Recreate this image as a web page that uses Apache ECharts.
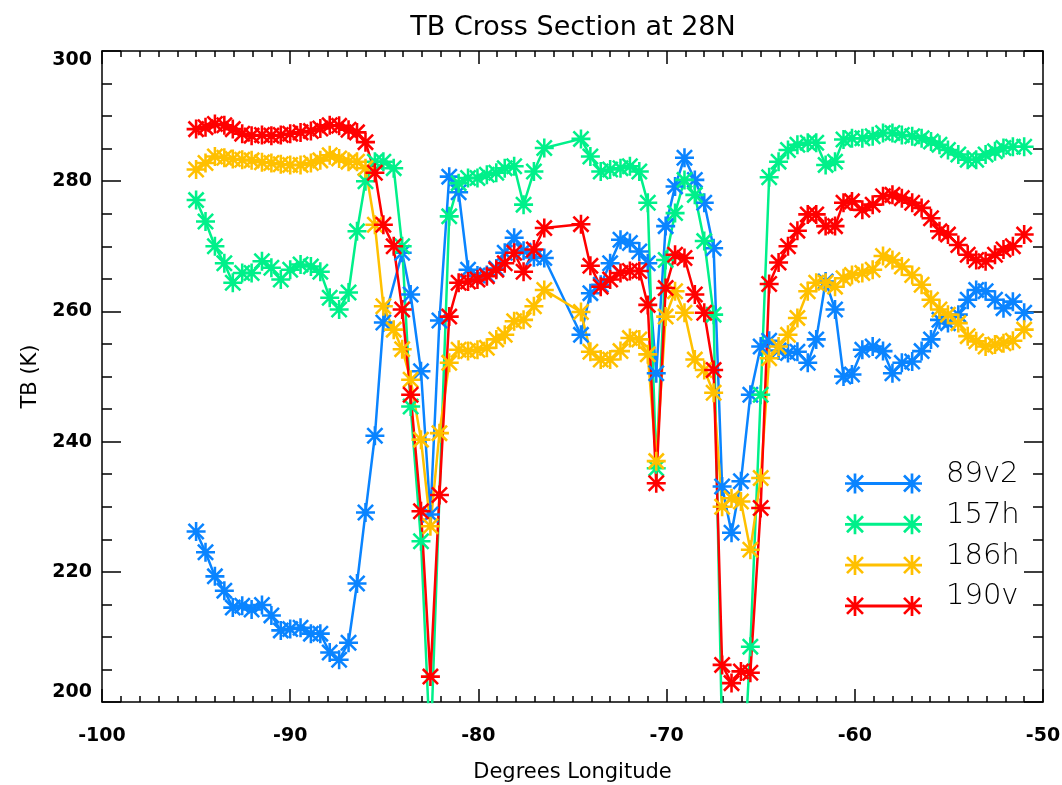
<!DOCTYPE html>
<html>
<head>
<meta charset="utf-8">
<script src="https://cdn.jsdelivr.net/npm/echarts@6/dist/echarts.min.js"></script>
<style>html,body{margin:0;padding:0;background:#fff}#chart{width:1062px;height:785px}</style>
</head>
<body>
<div id="chart"></div>
<script>
// ---- data ----
const xTicks = [-100, -90, -80, -70, -60, -50];
const yTicks = [200, 220, 240, 260, 280, 300];
const seriesNames = ['89v2', '157h', '186h', '190v'];

const lon = [
  -95.0, -94.5, -94.0, -93.5, -93.05, -92.55, -92.05, -91.5, -91.0, -90.5,
  -90.0, -89.45, -88.9, -88.4, -87.9, -87.4, -86.9, -86.45, -86.0, -85.5,
  -85.05, -84.5, -84.05, -83.6, -83.05, -82.55, -82.07, -81.55, -81.05, -80.55,
  -80.05, -79.55, -79.05, -78.6, -78.1, -77.6, -77.05, -76.5, -74.55, -74.05,
  -73.5, -73.0, -72.45, -71.95, -71.45, -71.0, -70.55, -70.05, -69.55, -69.05,
  -68.5, -68.0, -67.5, -67.05, -66.55, -66.05, -65.55, -65.0, -64.55, -64.05,
  -63.55, -63.05, -62.5, -62.05, -61.55, -61.05, -60.6, -60.15, -59.6, -59.05,
  -58.5, -58.0, -57.5, -56.95, -56.45, -55.95, -55.5, -55.05, -54.5, -54.0,
  -53.55, -53.05, -52.55, -52.1, -51.6, -51.0
];

const tb89v2 = [
  226.2, 223.0, 219.3, 217.1, 214.5, 214.8, 214.2, 214.9, 213.3, 211.0,
  211.2, 211.4, 210.5, 210.5, 207.6, 206.5, 209.1, 218.2, 229.1, 240.9,
  258.3, null, 269.0, 262.6, 250.8, 228.8, 258.6, 280.7, 278.3, 266.4,
  265.5, 265.6, 266.6, 269.0, 271.3, 269.3, 268.3, 268.2, 256.4, 262.8,
  264.1, 267.4, 271.0, 270.5, 269.2, 267.4, 250.5, 273.1, 279.2, 283.6,
  280.2, 276.7, 269.7, 233.1, 226.0, 233.9, 247.2, 254.6, 255.5, 254.0,
  253.6, 253.8, 252.1, 255.7, 264.6, 260.3, 250.0, 250.3, 254.1, 254.6,
  253.9, 250.5, 252.1, 252.3, 253.9, 255.7, 258.7, 258.2, 259.5, 261.8,
  263.3, 263.1, 261.8, 260.5, 261.5, 259.8
];

const tb157h = [
  277.1, 273.8, 270.0, 267.4, 264.4, 265.9, 265.9, 267.7, 266.7, 264.9,
  266.4, 267.2, 266.9, 266.1, 262.1, 260.3, 262.9, 272.3, 280.0, 283.0,
  283.0, 282.0, 270.0, 245.4, 224.7, 192.0, null, 274.6, 279.7, 280.5,
  280.5, 281.0, 281.3, 282.0, 282.3, 276.4, 281.5, 285.1, 286.5, 283.8,
  281.5, 281.8, 282.0, 282.3, 281.5, 276.7, 235.9, 267.9, 275.1, 280.2,
  277.9, 270.8, 259.5, 194.0, 188.0, 182.0, 208.5, 247.2, 280.6, 283.0,
  284.8, 285.6, 285.9, 285.9, 282.5, 283.0, 286.4, 286.6, 286.6, 286.9,
  287.4, 287.4, 287.1, 286.9, 286.6, 286.1, 285.6, 284.8, 284.1, 283.3,
  283.3, 284.1, 284.6, 285.1, 285.3, 285.3
];

const tb186h = [
  281.8, 282.8, 283.8, 283.6, 283.4, 283.3, 283.2, 282.9, 282.8, 282.6,
  282.5, 282.5, 282.8, 283.2, 284.0, 283.5, 283.0, 283.0, 282.0, 273.3,
  260.8, 257.2, 254.2, 249.5, 240.3, 227.0, 241.3, 252.1, 254.1, 253.9,
  254.1, 254.4, 255.7, 256.4, 258.5, 258.7, 260.8, 263.3, 259.9, 253.8,
  252.6, 252.6, 253.9, 255.9, 255.7, 253.4, 237.0, 259.2, 263.1, 259.8,
  252.6, 251.0, 247.5, 230.0, 231.3, 230.8, 223.4, 234.4, 252.8, 254.6,
  256.4, 259.0, 263.1, 264.4, 264.4, 263.8, 265.1, 265.6, 265.9, 266.4,
  268.5, 267.9, 266.9, 265.6, 264.1, 261.8, 260.3, 259.5, 258.2, 256.2,
  255.4, 254.6, 254.9, 255.1, 255.5, 257.2
];

const tb190v = [
  288.0, 288.3, 288.8, 288.6, 288.0, 287.3, 287.0, 287.1, 287.0, 287.1,
  287.3, 287.5, 287.7, 288.1, 288.6, 288.5, 287.9, 287.5, 286.0, 281.3,
  273.3, 270.0, 260.3, 247.2, 229.3, 203.9, 231.8, 259.2, 264.4, 264.6,
  264.9, 265.4, 266.4, 267.4, 269.0, 266.1, 269.5, 272.8, 273.4, 267.0,
  263.8, 264.9, 265.9, 266.2, 266.2, 261.0, 233.6, 263.6, 268.7, 268.2,
  262.6, 259.8, 251.0, 205.7, 202.9, 204.7, 204.5, 229.8, 264.2, 267.5,
  270.0, 272.4, 274.9, 274.9, 273.1, 273.1, 276.7, 276.9, 275.6, 276.4,
  277.7, 277.9, 277.4, 276.7, 275.9, 274.3, 272.3, 271.8, 270.2, 268.7,
  267.9, 267.7, 268.7, 269.5, 270.0, 271.8
];

// ---- styling ----
const colors = ['#0a84ff', '#00f08a', '#ffc000', '#ff0000'];
const FONT = 'DejaVu Sans';

function bar(x1, y1, x2, y2, w) {
  const dx = x2 - x1, dy = y2 - y1, L = Math.hypot(dx, dy);
  const nx = -dy / L * w / 2, ny = dx / L * w / 2;
  const f = v => v.toFixed(3);
  return 'M' + f(x1 + nx) + ' ' + f(y1 + ny) + 'L' + f(x2 + nx) + ' ' + f(y2 + ny) +
         'L' + f(x2 - nx) + ' ' + f(y2 - ny) + 'L' + f(x1 - nx) + ' ' + f(y1 - ny) + 'Z';
}
function star(cx, cy, r, t) {
  const d = r * 0.8;
  return bar(cx - r, cy, cx + r, cy, t) + bar(cx, cy - r, cx, cy + r, t) +
         bar(cx - d, cy - d, cx + d, cy + d, t) + bar(cx - d, cy + d, cx + d, cy - d, t);
}
const starPath = 'path://' + star(10, 10, 10, 2.7);
const legendPath = 'path://' + star(10, 10, 10, 2.7) + star(67, 10, 10, 2.7) + bar(10, 10, 67, 10, 3);

const tbLists = [tb89v2, tb157h, tb186h, tb190v];
const series = seriesNames.map((name, k) => ({
  name: name,
  type: 'line',
  xAxisIndex: 0,
  yAxisIndex: 0,
  data: lon.map((x, i) => [x, tbLists[k][i] === null ? '-' : tbLists[k][i]]),
  connectNulls: true,
  symbol: starPath,
  symbolSize: 19,
  symbolKeepAspect: true,
  showAllSymbol: true,
  clip: true,
  lineStyle: { color: colors[k], width: 2.5 },
  itemStyle: { color: colors[k], borderWidth: 0 },
  emphasis: { disabled: true },
  animation: false
}));

const legends = seriesNames.map((name, i) => ({
  data: [name],
  left: 845,
  top: 460 + i * 40.8,
  orient: 'vertical',
  padding: 0,
  icon: legendPath,
  itemWidth: 77,
  itemHeight: 20,
  itemGap: 0,
  selectedMode: false,
  itemStyle: { borderWidth: 0 },
  formatter: '{t|{name}}',
  textStyle: {
    fontFamily: FONT, fontWeight: 200, fontSize: 29, color: '#000',
    rich: { t: { fontFamily: FONT, fontWeight: 200, fontSize: 29, lineHeight: 30, color: '#000', padding: [0, 0, 18, 19] } }
  }
}));

const axisLineStyle = { color: '#000', width: 1.5 };
function xAx(pos, labels) {
  return {
    type: 'value', position: pos,
    min: xTicks[0], max: xTicks[xTicks.length - 1], interval: xTicks[1] - xTicks[0],
    axisLine: { show: true, onZero: false, lineStyle: axisLineStyle },
    axisTick: { show: true, inside: true, length: 13, lineStyle: axisLineStyle },
    minorTick: { show: true, splitNumber: 10, length: 6, lineStyle: axisLineStyle },
    splitLine: { show: false }, minorSplitLine: { show: false },
    axisLabel: labels ? { show: true, margin: 25, fontFamily: FONT, fontWeight: 'bold', fontSize: 19, color: '#000' } : { show: false },
    name: labels ? 'Degrees Longitude' : '',
    nameLocation: 'middle', nameGap: 60,
    nameTextStyle: { fontFamily: FONT, fontSize: 21, color: '#000' }
  };
}
function yAx(pos, labels) {
  return {
    type: 'value', position: pos,
    min: yTicks[0], max: yTicks[yTicks.length - 1], interval: yTicks[1] - yTicks[0],
    axisLine: { show: true, onZero: false, lineStyle: axisLineStyle },
    axisTick: { show: true, inside: true, length: 19, lineStyle: axisLineStyle },
    minorTick: { show: true, splitNumber: 4, length: 10, lineStyle: axisLineStyle },
    splitLine: { show: false }, minorSplitLine: { show: false },
    axisLabel: labels ? { show: true, margin: 10, fontFamily: FONT, fontWeight: 'bold', fontSize: 19, color: '#000',
      verticalAlignMaxLabel: 'top', verticalAlignMinLabel: 'bottom' } : { show: false },
    name: labels ? 'TB (K)' : '',
    nameLocation: 'middle', nameGap: 60,
    nameTextStyle: { fontFamily: FONT, fontSize: 21, color: '#000' }
  };
}

const chart = echarts.init(document.getElementById('chart'), null, { renderer: 'canvas' });
chart.setOption({
  animation: false,
  backgroundColor: '#fff',
  textStyle: { fontFamily: FONT },
  title: {
    text: 'TB Cross Section at 28N',
    left: 568, top: 9, textAlign: 'center',
    textStyle: { fontFamily: FONT, fontSize: 27, fontWeight: 'normal', color: '#000' }
  },
  grid: { left: 102, right: 19, top: 51, bottom: 83, containLabel: false, outerBoundsMode: 'none' },
  xAxis: [xAx('bottom', true), xAx('top', false)],
  yAxis: [yAx('left', true), yAx('right', false)],
  legend: legends,
  series: series
});
</script>
</body>
</html>
